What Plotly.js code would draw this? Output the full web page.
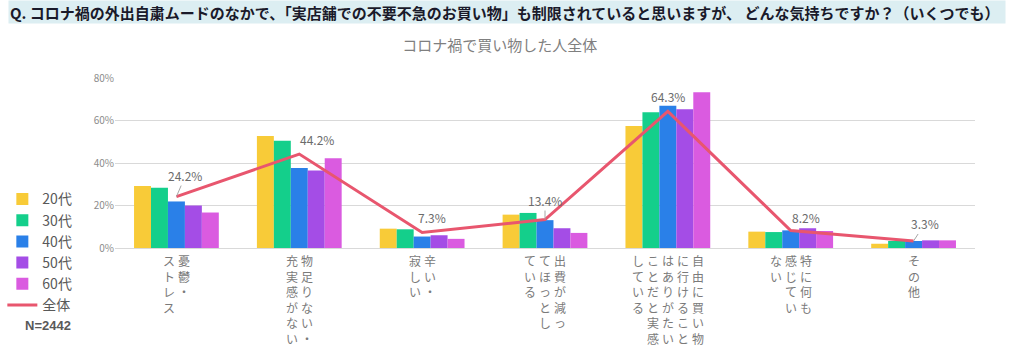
<!DOCTYPE html>
<html>
<head>
<meta charset="utf-8">
<script src="https://cdn.plot.ly/plotly-3.0.1.min.js"></script>
<style>html,body{margin:0;padding:0;background:#fff;}#chart{width:1024px;height:355px;}</style>
</head>
<body>
<div id="chart"></div>
<script>
// Category labels, split into vertical columns (right to left)
const categoryColumns = [
  ["憂鬱・", "ストレス"],
  ["物足りない・", "充実感がない"],
  ["辛い・", "寂しい"],
  ["出費が減っ", "てほっとし", "ている"],
  ["自由に買い物", "に行けること", "はありがたい", "ことだと実感", "している"],
  ["特に何も", "感じてい", "ない"],
  ["その他"]
];
const categories = categoryColumns.map(c => c.join(""));

const seriesNames = ["20代", "30代", "40代", "50代", "60代"];
const age20 = [29.2, 52.7, 9.1, 15.7, 57.4, 7.7, 2.0];
const age30 = [28.3, 50.5, 8.8, 16.5, 63.9, 7.5, 3.3];
const age40 = [21.9, 37.7, 5.4, 13.1, 67.0, 8.3, 3.3];
const age50 = [20.0, 36.5, 6.0, 9.3, 65.3, 9.3, 3.6];
const age60 = [16.7, 42.2, 4.3, 7.1, 73.3, 8.0, 3.6];
const overallName = "全体";
const overall = [24.2, 44.2, 7.3, 13.4, 64.3, 8.2, 3.3];
const sampleLabel = "N=2442";
const chartTitle = "コロナ禍で買い物した人全体";
const questionText = "Q. コロナ禍の外出自粛ムードのなかで、「実店舗での不要不急のお買い物」も制限されていると思いますが、 どんな気持ちですか？（いくつでも）";

const FONT = "'Noto Sans CJK JP', 'Noto Sans', sans-serif";
const colors = ["#F8CB38", "#14CF8B", "#2A80E8", "#A44DE6", "#DA5BE0"];
const lineColor = "#E8566E";
const ageSeries = [age20, age30, age40, age50, age60];

const traces = ageSeries.map((vals, i) => ({
  type: "bar",
  name: seriesNames[i],
  x: categories,
  y: vals,
  marker: {color: colors[i]},
  hoverinfo: "skip"
}));
traces.push({
  type: "scatter",
  mode: "lines",
  name: overallName,
  x: categories,
  y: overall,
  line: {color: lineColor, width: 3},
  hoverinfo: "skip"
});

const annotations = [];
// vertical category labels
const colStep = 15;
categoryColumns.forEach((cols, ci) => {
  const n = cols.length;
  cols.forEach((txt, j) => {
    annotations.push({
      xref: "x", yref: "paper",
      x: categories[ci], y: 0,
      xanchor: "center", yanchor: "top",
      xshift: ((n - 1) / 2 - j) * colStep,
      yshift: -2,
      text: Array.from(txt).join("<br>"),
      showarrow: false,
      font: {family: FONT, size: 12, color: "#7a7a7a"}
    });
  });
});

// data labels for overall line: [dx, dy, leader]
const labelOffsets = [[9, -21, true], [18, -15, false], [10, -15, false], [0, -19, true], [0, -15, false], [15, -13, false], [11, -17, true]];
overall.forEach((v, i) => {
  const o = labelOffsets[i];
  if (o[2]) {
    annotations.push({
      xref: "x", yref: "y", x: categories[i], y: v,
      text: v.toFixed(1) + "%",
      showarrow: true, arrowhead: 0, arrowwidth: 1, arrowcolor: "#a6a6a6",
      ax: o[0], ay: o[1], standoff: 0,
      font: {family: FONT, size: 12, color: "#6b6b6b"}
    });
  } else {
    annotations.push({
      xref: "x", yref: "y", x: categories[i], y: v,
      text: v.toFixed(1) + "%",
      showarrow: false, xshift: o[0], yshift: -o[1],
      font: {family: FONT, size: 12, color: "#6b6b6b"}
    });
  }
});

// header question band
annotations.push({
  xref: "paper", yref: "paper",
  x: -0.1244, y: 1.388, xanchor: "left", yanchor: "middle",
  width: 994, height: 20, align: "left",
  bgcolor: "#DCEEF2",
  text: "<b>" + questionText + "</b>",
  showarrow: false,
  font: {family: FONT, size: 15, color: "#1a1a2a"}
});
// sample size
annotations.push({
  xref: "paper", yref: "paper",
  x: -0.078, y: -0.455, xanchor: "center", yanchor: "middle",
  text: "<b>" + sampleLabel + "</b>",
  showarrow: false,
  font: {family: "'Liberation Sans', Arial, sans-serif", size: 13, color: "#595959"}
});

const layout = {
  width: 1024, height: 355,
  margin: {l: 115, r: 49, t: 78, b: 107, autoexpand: false},
  paper_bgcolor: "#ffffff", plot_bgcolor: "#ffffff",
  font: {family: FONT},
  title: {
    text: chartTitle,
    xref: "container", yref: "container",
    x: 0.488, y: 0.87, xanchor: "center", yanchor: "middle",
    font: {family: FONT, size: 15, color: "#7f7f7f"}
  },
  barmode: "group",
  bargap: 0.31,
  bargroupgap: 0,
  showlegend: true,
  legend: {
    x: -0.131, y: 0.38, xanchor: "left", yanchor: "top",
    font: {family: FONT, size: 14, color: "#595959"},
    tracegroupgap: 0, itemwidth: 30,
    bgcolor: "rgba(0,0,0,0)"
  },
  xaxis: {
    type: "category",
    showticklabels: false,
    showgrid: false, zeroline: false,
    showline: false, ticks: ""
  },
  yaxis: {
    range: [0, 80],
    dtick: 20,
    ticksuffix: "%",
    gridcolor: "#d9d9d9", gridwidth: 1,
    zeroline: true, zerolinecolor: "#d9d9d9", zerolinewidth: 1,
    showline: false, ticks: "",
    tickfont: {family: FONT, size: 10, color: "#8c8c8c"}
  },
  annotations: annotations
};

Plotly.newPlot("chart", traces, layout, {displayModeBar: false, staticPlot: true});
</script>
</body>
</html>
